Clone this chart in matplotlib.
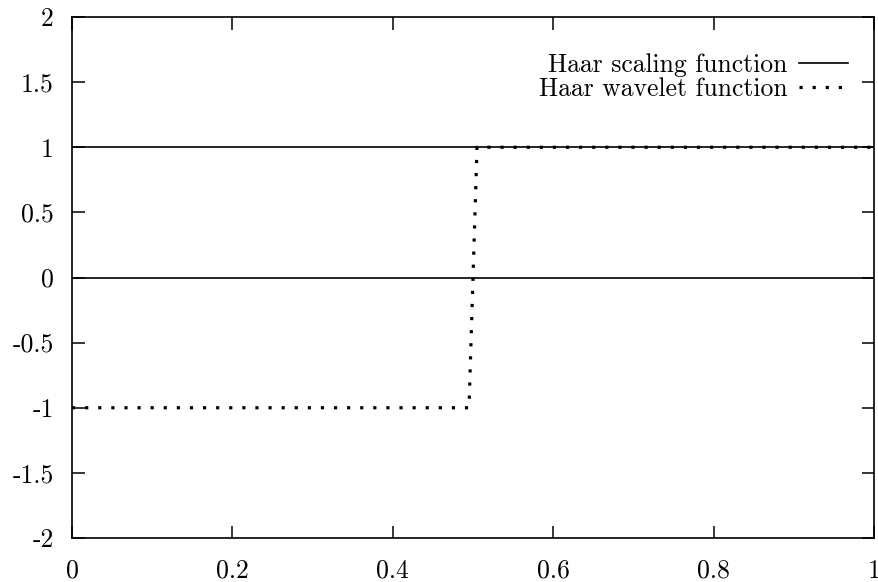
import matplotlib
matplotlib.use("Agg")
import matplotlib.pyplot as plt

# Data
scaling_x = [0.0, 1.0]
scaling_y = [1.0, 1.0]
wavelet_x = [0.0, 0.495, 0.505, 1.0]
wavelet_y = [-1.0, -1.0, 1.0, 1.0]
zero_x = [0.0, 1.0]
zero_y = [0.0, 0.0]
xticks = [0, 0.2, 0.4, 0.6, 0.8, 1]
xticklabels = ["0", "0.2", "0.4", "0.6", "0.8", "1"]
yticks = [-2, -1.5, -1, -0.5, 0, 0.5, 1, 1.5, 2]
yticklabels = ["-2", "-1.5", "-1", "-0.5", "0", "0.5", "1", "1.5", "2"]

plt.rcParams['font.family'] = ['cmr10', 'DejaVu Serif']
plt.rcParams['axes.unicode_minus'] = False

fig = plt.figure(figsize=(8.79, 5.82), dpi=100)
ax = fig.add_axes([72/879, 44/582, (874-72)/879, (538-17)/582])

ax.plot(zero_x, zero_y, color='black', lw=1.2)
ax.plot(scaling_x, scaling_y, color='black', lw=1.2, label='Haar scaling function')
ax.plot(wavelet_x, wavelet_y, color='black', lw=2.3, linestyle=(0, (1, 3.1)),
        dash_capstyle='butt', label='Haar wavelet function')

ax.set_xlim(0, 1)
ax.set_ylim(-2, 2)
ax.set_xticks(xticks)
ax.set_xticklabels(xticklabels)
ax.set_yticks(yticks)
ax.set_yticklabels(yticklabels)
ax.tick_params(direction='in', length=9, width=1.1, top=True, right=True,
               labelsize=18.5, pad=13)
ax.tick_params(axis='x', pad=15)
for s in ax.spines.values():
    s.set_linewidth(1.2)

leg = ax.legend(loc='upper right', bbox_to_anchor=(0.98, 0.95), frameon=False,
                markerfirst=False, fontsize=18.5, handlelength=1.9,
                handletextpad=0.45, labelspacing=0.0, borderaxespad=0)

fig.savefig('out.png', dpi=100)
